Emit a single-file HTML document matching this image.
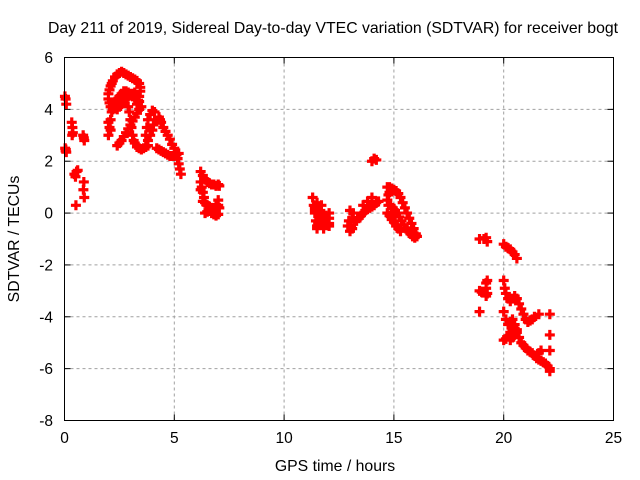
<!DOCTYPE html>
<html><head><meta charset="utf-8"><style>
body{margin:0;background:#fff}
svg{display:block;font-family:"Liberation Sans",sans-serif}
</style></head><body>
<svg id="chart" width="640" height="480" viewBox="0 0 640 480" xmlns="http://www.w3.org/2000/svg">
<rect width="640" height="480" fill="#fff"/>
<g id="grid"></g>
<g id="ticks"></g>
<g id="marks"></g>
<rect x="64.5" y="57.5" width="549" height="363" fill="none" stroke="#000" stroke-width="1"/>
<text x="333" y="33" font-size="15.8" text-anchor="middle">Day 211 of 2019, Sidereal Day-to-day VTEC variation (SDTVAR) for receiver bogt</text>
<text x="335" y="471" font-size="15.8" text-anchor="middle">GPS time / hours</text>
<text x="0" y="0" font-size="15.8" text-anchor="middle" transform="translate(19,239) rotate(-90)">SDTVAR / TECUs</text>
</svg>
<script>
const xTicks=[0,5,10,15,20,25];
const yTicks=[-8,-6,-4,-2,0,2,4,6];
const hours=[
0.02,0.05,0.08,0.03,0.06,0.05,0.08,0.33,0.36,0.38,0.35,0.45,0.5,0.55,0.52,0.6,0.85,0.88,0.9,0.88,0.86,0.9,
2.0,2.05,2.1,2.15,2.2,2.3,2.4,2.5,2.6,2.7,2.8,2.9,3.0,3.1,3.2,3.3,3.4,3.45,3.45,3.4,3.35,3.3,
2.0,2.05,2.1,2.2,2.3,2.4,2.5,2.6,2.7,2.8,2.9,3.0,3.1,3.2,3.3,3.4,
2.2,2.3,2.4,2.5,2.6,2.7,2.8,2.9,3.0,3.1,3.2,
2.9,2.95,3.0,3.05,3.1,3.15,3.2,3.3,3.4,3.5,3.6,3.7,3.8,
2.4,2.5,2.6,2.7,2.8,2.9,3.0,3.1,3.2,3.3,3.4,3.5,
3.7,3.75,3.8,3.9,4.0,4.1,4.1,4.05,4.0,3.9,3.8,3.7,
4.3,4.35,4.4,4.5,4.6,4.7,4.8,4.9,5.0,5.1,5.15,5.2,5.25,5.3,
4.2,4.3,4.4,4.5,4.6,4.7,4.8,4.9,5.0,5.1,5.2,
2.0,2.05,2.1,2.15,2.0,2.1,
6.2,6.3,6.4,6.5,6.6,6.7,6.8,6.9,7.0,7.05,
6.2,6.25,6.3,6.35,6.4,6.5,6.6,6.7,6.8,6.9,7.0,
6.4,6.5,6.6,6.7,6.8,6.9,7.0,7.05,7.0,6.3,6.2,
11.3,11.35,11.4,11.45,11.5,11.55,11.6,11.65,11.7,11.75,11.8,11.85,11.9,11.4,11.5,11.6,11.7,11.8,11.5,11.6,11.4,11.7,12.05,12.05,12.05,12.05,
12.9,12.95,13.0,13.05,13.1,13.15,13.2,13.0,13.1,13.3,13.4,13.5,13.6,13.7,13.8,13.9,14.0,14.1,14.2,14.3,13.6,13.8,14.0,14.0,14.1,14.2,
14.7,14.8,14.9,15.0,15.1,15.2,15.3,15.4,15.5,15.6,15.7,15.8,15.9,16.0,16.05,15.95,15.85,15.75,15.65,15.55,15.45,15.35,15.25,15.15,15.05,14.95,14.85,14.75,14.7,14.8,14.9,15.0,15.1,15.2,15.3,14.7,14.75,14.8,
18.9,19.1,19.2,19.25,18.9,19.0,19.2,19.2,19.25,19.2,19.25,18.9,
20.0,20.1,20.2,20.3,20.4,20.5,20.6,
20.0,20.05,20.1,20.2,20.3,20.4,20.5,20.6,20.7,20.8,20.9,21.0,21.1,21.2,21.3,21.4,21.6,
20.0,20.1,20.2,20.3,20.4,20.5,20.6,20.5,20.4,20.3,
20.0,20.1,20.2,20.3,20.4,20.5,20.6,20.7,20.8,20.9,21.0,21.1,21.2,21.3,21.4,21.5,21.6,21.7,21.8,21.9,22.0,22.1,
22.1,22.1,22.1,22.1,21.6,21.7
];
const values=[
4.5,4.4,4.2,2.5,2.45,2.4,2.35,3.5,3.3,3.1,3.0,1.5,1.4,1.6,0.3,1.65,3.0,2.9,2.8,1.2,0.9,0.6,
4.6,4.75,4.9,5.0,5.1,5.25,5.35,5.4,5.45,5.4,5.35,5.3,5.25,5.2,5.15,5.1,5.0,4.85,4.7,4.5,4.35,4.2,
4.4,4.25,4.1,4.0,4.05,4.0,4.1,4.2,4.3,4.4,4.5,4.55,4.6,4.65,4.5,4.3,
4.2,4.3,4.4,4.5,4.6,4.7,4.7,4.65,4.6,4.5,4.4,
4.1,3.9,3.6,3.3,3.0,2.8,2.7,2.55,2.5,2.45,2.5,2.55,2.6,
2.6,2.7,2.8,2.95,3.1,3.25,3.4,3.55,3.7,3.85,4.0,4.1,
3.0,3.3,3.6,3.8,3.95,3.9,3.6,3.4,3.2,3.0,2.8,2.6,
3.7,3.6,3.5,3.3,3.15,3.0,2.85,2.65,2.5,2.3,2.1,1.9,1.7,1.5,
2.5,2.45,2.4,2.35,2.3,2.25,2.2,2.2,2.2,2.25,2.3,
3.0,3.3,3.6,3.9,3.5,3.2,
1.6,1.45,1.3,1.2,1.15,1.1,1.1,1.05,1.1,1.05,
1.2,1.0,0.8,0.6,0.4,0.3,0.25,0.2,0.2,0.25,0.3,
0.0,0.05,0.1,0.0,-0.05,-0.1,-0.05,0.2,0.5,0.45,0.9,
0.6,0.3,0.0,-0.3,-0.5,-0.4,-0.2,0.1,-0.1,-0.4,-0.5,-0.3,-0.1,0.2,0.4,0.0,-0.2,-0.6,-0.6,-0.3,0.1,0.3,-0.4,-0.2,0.0,-0.5,
-0.5,-0.3,-0.7,-0.5,-0.2,0.0,-0.3,0.1,-0.6,-0.3,-0.2,-0.1,0.0,0.1,0.15,0.2,0.25,0.3,0.4,0.45,0.3,0.45,0.6,2.0,2.1,2.05,
1.0,1.0,0.95,0.9,0.85,0.75,0.6,0.4,0.2,0.0,-0.2,-0.4,-0.6,-0.8,-0.9,-0.95,-0.9,-0.8,-0.7,-0.6,-0.45,-0.3,-0.15,0.0,0.1,0.2,0.3,0.3,0.0,-0.1,-0.25,-0.35,-0.5,-0.6,-0.7,0.5,0.7,0.8,
-1.0,-1.0,-0.95,-1.1,-3.0,-3.05,-2.7,-2.9,-3.1,-3.2,-2.6,-3.8,
-1.2,-1.3,-1.35,-1.4,-1.5,-1.6,-1.75,
-2.6,-2.9,-3.1,-3.3,-3.4,-3.3,-3.2,-3.3,-3.5,-3.7,-3.9,-4.1,-4.2,-4.15,-4.1,-4.0,-3.9,
-3.8,-4.1,-4.3,-4.2,-4.1,-4.3,-4.5,-4.7,-4.8,-4.9,
-4.9,-4.85,-4.75,-4.6,-4.5,-4.45,-4.6,-4.8,-5.0,-5.1,-5.2,-5.3,-5.35,-5.4,-5.5,-5.6,-5.65,-5.7,-5.75,-5.8,-5.9,-6.0,
-3.9,-4.7,-5.3,-6.1,-5.4,-5.3
];
const X0=64.5,X1=613.5,Y0=420.5,Y1=57.5,XMIN=0,XMAX=25,YMIN=-8,YMAX=6;
function xs(v){return X0+(v-XMIN)/(XMAX-XMIN)*(X1-X0);}
function ys(v){return Y0-(v-YMIN)/(YMAX-YMIN)*(Y0-Y1);}
const NS="http://www.w3.org/2000/svg";
const grid=document.getElementById('grid'),ticks=document.getElementById('ticks'),marks=document.getElementById('marks');
function mk(tag,attrs,parent){const e=document.createElementNS(NS,tag);for(const k in attrs)e.setAttribute(k,attrs[k]);parent.appendChild(e);return e;}
xTicks.forEach(t=>{
  const x=xs(t);
  if(t>XMIN&&t<XMAX){const g=mk('line',{x1:x,x2:x,y1:Y1,y2:Y0,stroke:'#a0a0a0','stroke-dasharray':'3,3'},grid);
  
  }
  const a=mk('line',{x1:x,x2:x,y1:Y0,y2:Y0-6,stroke:'#000'},ticks);
  
  
  const b=mk('line',{x1:x,x2:x,y1:Y1,y2:Y1+6,stroke:'#000'},ticks);
  
  
  const l=mk('text',{x:x,y:443,'font-size':15.5,'text-anchor':'middle'},ticks);l.textContent=t;
  
  
});
yTicks.forEach(t=>{
  const y=ys(t);
  if(t>YMIN&&t<YMAX){const g=mk('line',{x1:X0,x2:X1,y1:y,y2:y,stroke:'#a0a0a0','stroke-dasharray':'3,3'},grid);
  
  }
  const a=mk('line',{x1:X0,x2:X0+6,y1:y,y2:y,stroke:'#000'},ticks);
  
  
  const b=mk('line',{x1:X1,x2:X1-6,y1:y,y2:y,stroke:'#000'},ticks);
  
  
  const l=mk('text',{x:53,y:y+5.5,'font-size':15.5,'text-anchor':'end'},ticks);l.textContent=t;
  
  
});
let d='';
for(let i=0;i<hours.length&&i<values.length;i++){
  const x=xs(hours[i]),y=ys(values[i]);
  d+='M'+(x-5)+' '+y+'h10M'+x+' '+(y-5)+'v10';
}
const p=mk('path',{d:d,stroke:'#ff0000','stroke-width':3.2,fill:'none'},marks);


</script>
</body></html>
